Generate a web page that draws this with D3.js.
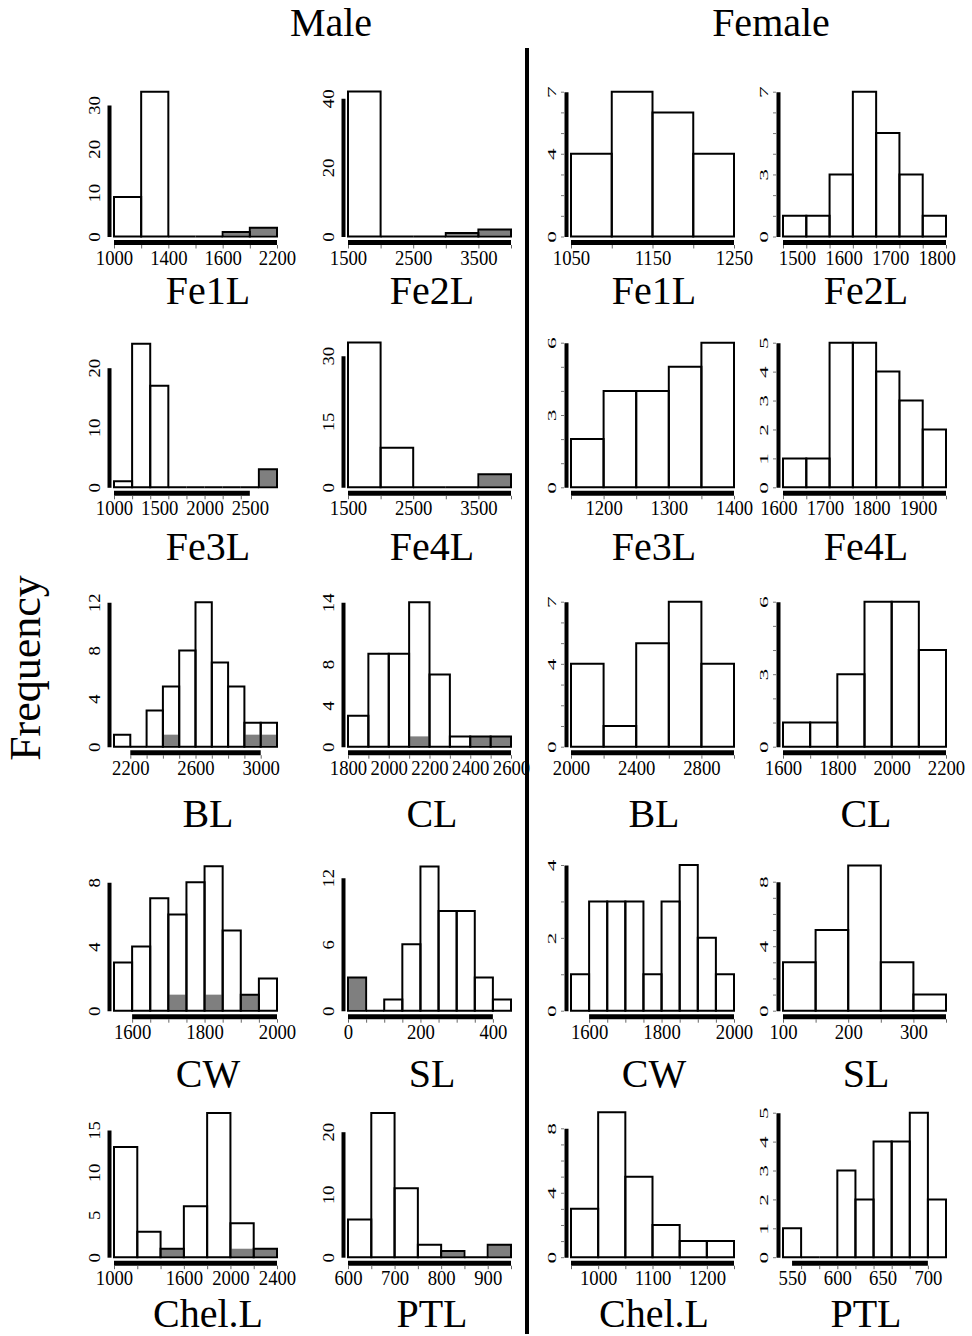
<!DOCTYPE html>
<html>
<head>
<meta charset="utf-8">
<script src="https://cdn.jsdelivr.net/npm/d3@7"></script>
<style>
  body { margin: 0; background: #fff; }
  svg text { font-family: "Liberation Serif", "Times New Roman", serif; fill: #000; }
</style>
</head>
<body>
<div id="chart"></div>
<script>
// ---- data (panels in reading order: Male, Male, Female, Female per row) ----
const sexes = ["Male", "Female"];
const titles = ["Fe1L", "Fe2L", "Fe1L", "Fe2L",
                "Fe3L", "Fe4L", "Fe3L", "Fe4L",
                "BL", "CL", "BL", "CL",
                "CW", "SL", "CW", "SL",
                "Chel.L", "PTL", "Chel.L", "PTL"];
const binStarts = [1000, 1500, 1050, 1470,
                   1000, 1500, 1150, 1610,
                   2100, 1800, 2000, 1600,
                   1550, 0, 1550, 100,
                   1000, 600, 950, 540];
const binWidths = [200, 500, 50, 50,
                   200, 500, 50, 50,
                   100, 100, 200, 100,
                   50, 50, 50, 50,
                   200, 50, 50, 20];
const counts = [
  [9, 33, 0, 0, 1, 2], [42, 0, 0, 1, 2], [4, 7, 6, 4], [1, 1, 3, 7, 5, 3, 1],
  [1, 24, 17, 0, 0, 0, 0, 0, 3], [33, 9, 0, 0, 3], [2, 4, 4, 5, 6], [1, 1, 5, 5, 4, 3, 2],
  [1, 0, 3, 5, 8, 12, 7, 5, 2, 2], [3, 9, 9, 14, 7, 1, 1, 1], [4, 1, 5, 7, 4], [1, 1, 3, 6, 6, 4],
  [3, 4, 7, 6, 8, 9, 5, 1, 2], [3, 0, 1, 6, 13, 9, 9, 3, 1], [1, 3, 3, 3, 1, 3, 4, 2, 1], [3, 5, 9, 3, 1],
  [13, 3, 1, 6, 17, 4, 1], [6, 23, 11, 2, 1, 0, 2], [3, 9, 5, 2, 1, 1], [1, 0, 0, 3, 2, 4, 4, 5, 2]
];
// grey part of each bar (male outliers); null = none
const outlierCounts = [
  [0, 0, 0, 0, 1, 2], [0, 0, 0, 1, 2], null, null,
  [0, 0, 0, 0, 0, 0, 0, 0, 3], [0, 0, 0, 0, 3], null, null,
  [0, 0, 0, 1, 0, 0, 0, 0, 1, 1], [0, 0, 0, 1, 0, 0, 1, 1], null, null,
  [0, 0, 0, 1, 0, 1, 0, 1, 0], [3, 0, 0, 0, 0, 0, 0, 0, 0], null, null,
  [0, 0, 1, 0, 0, 1, 1], [0, 0, 0, 0, 1, 0, 2], null, null
];
const yTicks = [
  [0, 10, 20, 30], [0, 20, 40], [0, 4, 7], [0, 3, 7],
  [0, 10, 20], [0, 15, 30], [0, 3, 6], [0, 1, 2, 3, 4, 5],
  [0, 4, 8, 12], [0, 4, 8, 14], [0, 4, 7], [0, 3, 6],
  [0, 4, 8], [0, 6, 12], [0, 2, 4], [0, 4, 8],
  [0, 5, 10, 15], [0, 10, 20], [0, 4, 8], [0, 1, 2, 3, 4, 5]
];
const xTicks = [
  [1000, 1400, 1800, 2200], [1500, 2500, 3500], [1050, 1150, 1250], [1500, 1600, 1700, 1800],
  [1000, 1500, 2000, 2500], [1500, 2500, 3500], [1200, 1300, 1400], [1600, 1700, 1800, 1900],
  [2200, 2600, 3000], [1800, 2000, 2200, 2400, 2600], [2000, 2400, 2800], [1600, 1800, 2000, 2200],
  [1600, 1800, 2000], [0, 200, 400], [1600, 1800, 2000], [100, 200, 300],
  [1000, 1600, 2000, 2400], [600, 700, 800, 900], [1000, 1100, 1200], [550, 600, 650, 700]
];
const xTickLabels = [
  ["1000", "1400", "1600", "2200"], ["1500", "2500", "3500"], ["1050", "1150", "1250"], ["1500", "1600", "1700", "1800"],
  ["1000", "1500", "2000", "2500"], ["1500", "2500", "3500"], ["1200", "1300", "1400"], ["1600", "1700", "1800", "1900"],
  ["2200", "2600", "3000"], ["1800", "2000", "2200", "2400", "2600"], ["2000", "2400", "2800"], ["1600", "1800", "2000", "2200"],
  ["1600", "1800", "2000"], ["0", "200", "400"], ["1600", "1800", "2000"], ["100", "200", "300"],
  ["1000", "1600", "2000", "2400"], ["600", "700", "800", "900"], ["1000", "1100", "1200"], ["550", "600", "650", "700"]
];
const xAxisSpans = [
  [1000, 2200], [1500, 4000], [1050, 1250], [1470, 1820],
  [1000, 2500], [1500, 4000], [1150, 1400], [1610, 1960],
  [2200, 3000], [1800, 2600], [2000, 3000], [1600, 2200],
  [1600, 2000], [0, 400], [1600, 2000], [100, 350],
  [1000, 2400], [600, 950], [950, 1250], [550, 700]
];

// ---- layout ----
const width = 972, height = 1336;
const colX = [114, 348, 571, 783];      // left edge of the bars in each column
const frameW = 163;                     // width covered by the bars
const rowBase = [236.5, 487.3, 746.7, 1010.7, 1257.2];
const axisTop = [105, 98.3, 91.7, 91.7,
                 367.7, 355.7, 342.7, 342.7,
                 602.3, 602.3, 601.7, 601.7,
                 882.3, 877.7, 865, 881.7,
                 1130, 1131.7, 1128.3, 1112.7];
const titleBase = [304, 560, 827, 1087, 1327];
const titleX = [208, 432, 654, 866];
const grey = "#7f7f7f";

const svg = d3.select("#chart").append("svg")
    .attr("width", width)
    .attr("height", height);

titles.forEach((title, i) => {
    const row = Math.floor(i / 4), col = i % 4, female = col >= 2;
    const nb = counts[i].length;
    const x = d3.scaleLinear()
        .domain([binStarts[i], binStarts[i] + nb * binWidths[i]])
        .range([colX[col], colX[col] + frameW]);
    const yTop = yTicks[i][yTicks[i].length - 1];
    const y = d3.scaleLinear().domain([0, yTop]).range([rowBase[row], axisTop[i]]);

    const bins = counts[i].map((c, j) => ({
        x0: binStarts[i] + j * binWidths[i],
        x1: binStarts[i] + (j + 1) * binWidths[i],
        n: c,
        g: outlierCounts[i] ? outlierCounts[i][j] : 0
    }));
    const barPath = b => `M${x(b.x0)},${y(0)}V${y(b.n)}H${x(b.x1)}V${y(0)}Z`;

    const g = svg.append("g").attr("class", "panel");

    // white bars
    g.selectAll("path.fill").data(bins).enter().append("path")
        .attr("class", "fill")
        .attr("d", barPath)
        .attr("fill", "#fff");

    // grey part
    g.selectAll("rect.out").data(bins.filter(b => b.g > 0)).enter().append("rect")
        .attr("class", "out")
        .attr("x", b => x(b.x0) + 1)
        .attr("width", b => x(b.x1) - x(b.x0) - 2)
        .attr("y", b => y(b.g))
        .attr("height", b => y(0) - y(b.g) - 1)
        .attr("fill", grey);

    // outlines
    g.selectAll("path.edge").data(bins).enter().append("path")
        .attr("class", "edge")
        .attr("d", barPath)
        .attr("fill", "none")
        .attr("stroke", "#000")
        .attr("stroke-width", 2);

    // y axis: thick bar + rotated labels
    const yAxis = g.append("g")
        .attr("transform", `translate(${colX[col] - 5},0)`)
        .call(d3.axisLeft(y).tickValues(yTicks[i]).tickFormat(d3.format("d"))
            .tickSize(0).tickSizeOuter(0).tickPadding(0))
        .attr("font-size", null).attr("font-family", null);
    yAxis.select(".domain").attr("stroke", "#000").attr("stroke-width", 4);
    yAxis.selectAll("text")
        .attr("x", 0).attr("dy", null)
        .attr("text-anchor", "middle")
        .style("font-size", female ? "13px" : "17px")
        .attr("transform", female ? "translate(-10,0) rotate(-90) scale(1.8,1)"
                                  : "translate(-9,0) rotate(-90) scale(1.1,1)");

    if (female) {
        const minor = g.append("g")
            .attr("transform", `translate(${colX[col] - 7},0)`)
            .call(d3.axisLeft(y).tickValues(d3.range(0, yTop + 1)).tickSize(3).tickFormat(""));
        minor.select(".domain").remove();
        minor.selectAll("line").attr("stroke", "#777").attr("stroke-width", 1);
    }

    // x axis: thick bar, small ticks at the bin edges, labels
    const span = xAxisSpans[i];
    g.append("line")
        .attr("x1", x(span[0])).attr("x2", x(span[1]))
        .attr("y1", rowBase[row] + 6).attr("y2", rowBase[row] + 6)
        .attr("stroke", "#000").attr("stroke-width", 5);

    const edges = bins.map(b => b.x0).concat([bins[nb - 1].x1])
        .filter(v => v >= span[0] && v <= span[1]);
    const xMinor = g.append("g")
        .attr("transform", `translate(0,${rowBase[row] + 8.5})`)
        .call(d3.axisBottom(x).tickValues(edges).tickSize(3.5).tickFormat(""));
    xMinor.select(".domain").remove();
    xMinor.selectAll("line").attr("stroke", "#666").attr("stroke-width", 1);

    const xAxis = g.append("g")
        .attr("transform", `translate(0,${rowBase[row] + 28})`)
        .call(d3.axisBottom(x).tickValues(xTicks[i])
            .tickFormat((d, k) => xTickLabels[i][k]).tickSize(0).tickPadding(0))
        .attr("font-size", null).attr("font-family", null);
    xAxis.select(".domain").remove();
    xAxis.selectAll("text")
        .attr("y", 0).attr("dy", null)
        .attr("transform", "scale(0.85,1)")
        .style("font-size", "22px");

    // panel title
    g.append("text")
        .attr("x", titleX[col])
        .attr("y", titleBase[row])
        .attr("text-anchor", "middle")
        .style("font-size", "40px")
        .text(title);
});

// column headers
svg.selectAll("text.sex").data(sexes).enter().append("text")
    .attr("class", "sex")
    .attr("x", (d, k) => k === 0 ? 331 : 771)
    .attr("y", 36)
    .attr("text-anchor", "middle")
    .style("font-size", "40px")
    .text(d => d);

// shared y label
svg.append("text")
    .attr("transform", "translate(40,668) rotate(-90)")
    .attr("text-anchor", "middle")
    .style("font-size", "44px")
    .text("Frequency");

// divider between the sexes
svg.append("line")
    .attr("x1", 527).attr("x2", 527)
    .attr("y1", 48).attr("y2", 1334)
    .attr("stroke", "#000").attr("stroke-width", 4);
</script>
</body>
</html>
